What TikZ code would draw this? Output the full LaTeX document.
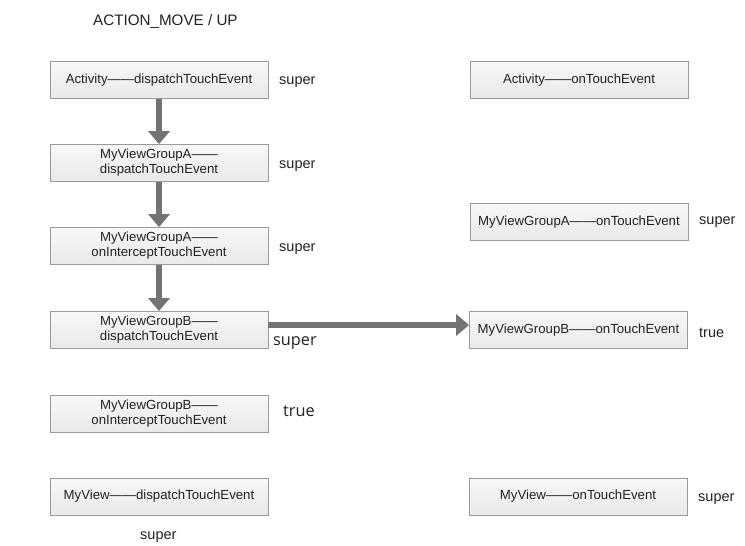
\documentclass[tikz,border=0pt]{standalone}
\usepackage{fontspec}
\setmainfont{Liberation Sans}
\newfontfamily\osans{Open Sans}
\usetikzlibrary{arrows.meta,shadings}
\definecolor{boxline}{HTML}{9A9A9A}
\definecolor{arrowc}{HTML}{737373}
\definecolor{txt}{HTML}{222222}
\tikzset{
  x=1pt,y=-1pt,
  box/.style={draw=boxline, line width=0.8pt, top color=gray!6, bottom color=gray!17,
    minimum width=218pt, minimum height=37pt, align=center, text=txt,
    font=\fontsize{13.2}{15}\selectfont, inner sep=0pt},
  lbl/.style={text=txt, font=\fontsize{14.5}{16}\selectfont, anchor=west, inner sep=0pt},
  lblb/.style={text=txt, font=\osans\fontsize{16.3}{18}\selectfont, anchor=west, inner sep=0pt},
  flow/.style={draw=arrowc, line width=5.5pt, -{Triangle[width=21pt,length=13pt]}}
}
\begin{document}
\begin{tikzpicture}
\useasboundingbox[fill=white] (0,0) rectangle (745,546);
\node[text=txt, font=\fontsize{15.2}{17}\selectfont, anchor=west, inner sep=0pt] (title) at (93,21.5) {ACTION\_MOVE / UP};
% left column
\node[box] (a1) at (159,80) {Activity——dispatchTouchEvent};
\node[box] (a2) at (159,163) {MyViewGroupA——\\dispatchTouchEvent};
\node[box] (a3) at (159,246) {MyViewGroupA——\\onInterceptTouchEvent};
\node[box] (a4) at (159,330) {MyViewGroupB——\\dispatchTouchEvent};
\node[box] (a5) at (159,414) {MyViewGroupB——\\onInterceptTouchEvent};
\node[box] (a6) at (159,496.5) {MyView——dispatchTouchEvent};
% right column
\node[box] (b1) at (579,80) {Activity——onTouchEvent};
\node[box] (b2) at (579,222) {MyViewGroupA——onTouchEvent};
\node[box] (b3) at (578.5,330) {MyViewGroupB——onTouchEvent};
\node[box] (b6) at (578,496.5) {MyView——onTouchEvent};
% labels
\node[lbl] (s1) at (279,82) {super};
\node[lbl] (s2) at (279,166) {super};
\node[lbl] (s3) at (279,249) {super};
\node[lblb] (s4) at (273,343) {super};
\node[lblb] (s5) at (283,411) {true};
\node[lbl] (s6) at (140,537) {super};
\node[lbl] (t2) at (699,222) {super};
\node[lbl] (t3) at (699,333) {true};
\node[lbl] (t6) at (698,499) {super};
% arrows
\draw[flow] (a1) -- (a2);
\draw[flow] (a2) -- (a3);
\draw[flow] (a3) -- (a4);
\draw[flow] ([yshift=5pt]a4.east) -- ([yshift=5pt]b3.west);
\end{tikzpicture}
\end{document}
